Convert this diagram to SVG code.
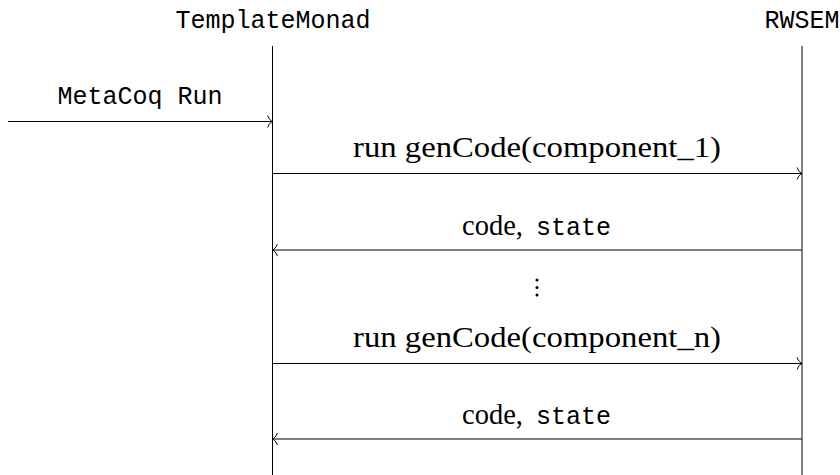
<svg xmlns="http://www.w3.org/2000/svg" width="840" height="475" viewBox="0 0 840 475">
<style>
.mono{font-family:"Liberation Mono","DejaVu Sans Mono",monospace;font-size:25px;fill:#000}
.serif{font-family:"Liberation Serif","Times New Roman",serif;font-size:29px;fill:#000}
.life{stroke:#000;stroke-width:1;fill:none}
.msg{stroke:#000;stroke-width:1;fill:none;marker-end:url(#to)}
</style>
<defs>
<marker id="to" markerUnits="userSpaceOnUse" markerWidth="14" markerHeight="16" viewBox="-8 -8 10 16" refX="0" refY="0" orient="auto">
<path d="M-4.8,-6 C-3.8,-2.2 -1.2,-0.6 0,0 C-1.2,0.6 -3.8,2.2 -4.8,6" fill="none" stroke="#000" stroke-width="1"/>
</marker>
</defs>
<rect width="840" height="475" fill="#fff"/>
<g id="TemplateMonad">
<text class="mono" x="273" y="28" text-anchor="middle">TemplateMonad</text>
<line class="life" x1="272.5" y1="46" x2="272.5" y2="475"/>
</g>
<g id="RWSEM">
<text class="mono" x="802" y="28" text-anchor="middle">RWSEM</text>
<line class="life" x1="802" y1="46" x2="802" y2="475"/>
</g>
<g id="connectors">
<line class="msg" x1="8" y1="121.5" x2="272.5" y2="121.5"/>
<text class="mono" x="140" y="104" text-anchor="middle">MetaCoq Run</text>
<line class="msg" x1="272.5" y1="173.5" x2="802" y2="173.5"/>
<text class="serif" x="353" y="157" textLength="368" lengthAdjust="spacingAndGlyphs">run genCode(component_1)</text>
<line class="msg" x1="802" y1="250" x2="272.5" y2="250"/>
<text y="235"><tspan class="serif" x="462" textLength="61" lengthAdjust="spacingAndGlyphs">code,</tspan><tspan class="mono" x="536">state</tspan></text>
<circle cx="537" cy="280" r="1.5" fill="#000"/>
<circle cx="537" cy="287.5" r="1.5" fill="#000"/>
<circle cx="537" cy="295" r="1.5" fill="#000"/>
<line class="msg" x1="272.5" y1="363.5" x2="802" y2="363.5"/>
<text class="serif" x="353" y="347" textLength="368" lengthAdjust="spacingAndGlyphs">run genCode(component_n)</text>
<line class="msg" x1="802" y1="439" x2="272.5" y2="439"/>
<text y="424"><tspan class="serif" x="462" textLength="61" lengthAdjust="spacingAndGlyphs">code,</tspan><tspan class="mono" x="536">state</tspan></text>
</g>
</svg>
